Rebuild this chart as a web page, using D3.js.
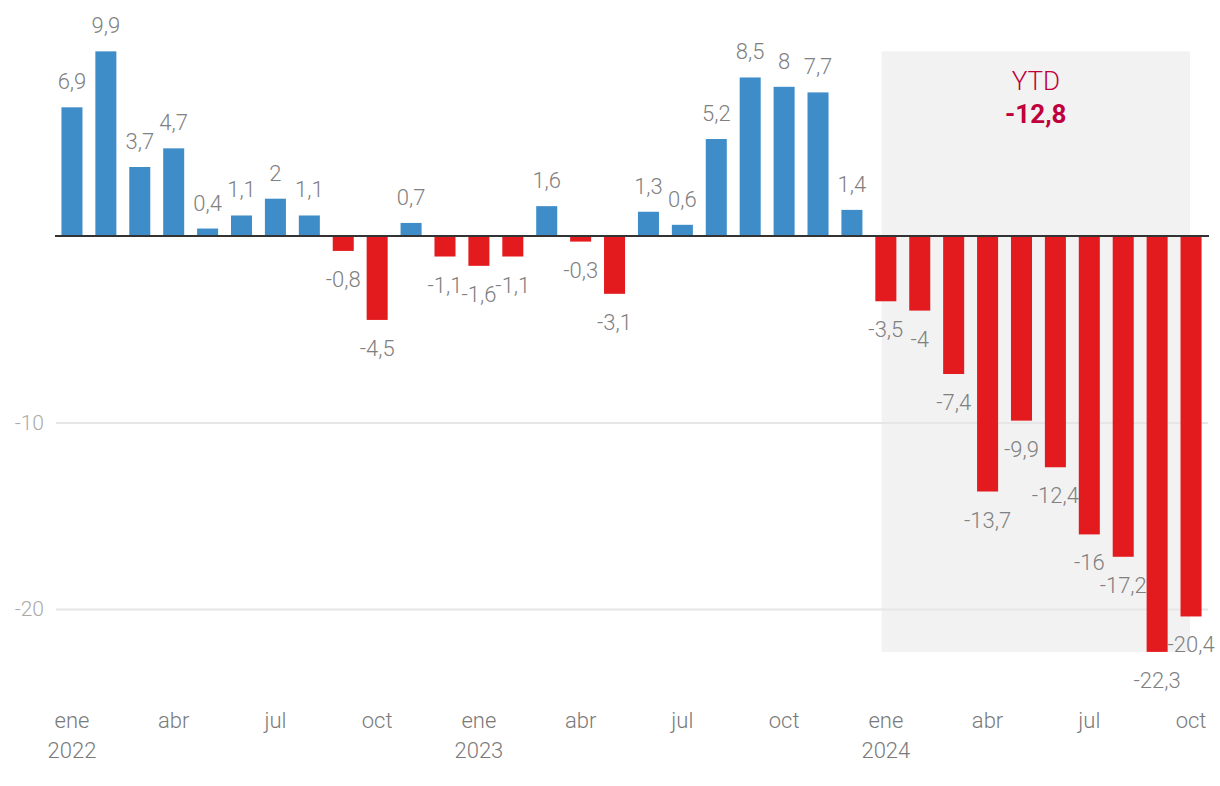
<!DOCTYPE html>
<html>
<head>
<meta charset="utf-8">
<script src="https://cdn.jsdelivr.net/npm/d3@7/dist/d3.min.js"></script>
<style>
  html, body { margin: 0; padding: 0; background: #fff; }
  svg { display: block; font-family: Roboto, "Noto Sans", sans-serif; }
</style>
</head>
<body>
<svg id="chart" width="1220" height="786"></svg>
<script>
const categories = [
  "ene 2022","feb 2022","mar 2022","abr 2022","may 2022","jun 2022","jul 2022","ago 2022","sep 2022","oct 2022","nov 2022","dic 2022",
  "ene 2023","feb 2023","mar 2023","abr 2023","may 2023","jun 2023","jul 2023","ago 2023","sep 2023","oct 2023","nov 2023","dic 2023",
  "ene 2024","feb 2024","mar 2024","abr 2024","may 2024","jun 2024","jul 2024","ago 2024","sep 2024","oct 2024"
];
const values = [
  6.9, 9.9, 3.7, 4.7, 0.4, 1.1, 2, 1.1, -0.8, -4.5, 0.7, -1.1,
  -1.6, -1.1, 1.6, -0.3, -3.1, 1.3, 0.6, 5.2, 8.5, 8, 7.7, 1.4,
  -3.5, -4, -7.4, -13.7, -9.9, -12.4, -16, -17.2, -22.3, -20.4
];
const tickMonths = ["ene", "abr", "jul", "oct"];
const yTicks = [-10, -20];
const ytdLabel = "YTD";
const ytdValue = "-12,8";
const ytdStart = "ene 2024";
const ytdEnd = "oct 2024";

const data = categories.map((c, i) => ({ cat: c, v: values[i] }));
const fmt = v => String(v).replace(".", ",");

const svg = d3.select("#chart");

const x = d3.scaleBand()
  .domain(categories)
  .range([55, 1208])
  .paddingInner(0.38)
  .paddingOuter(0.19);

const y = d3.scaleLinear()
  .domain([0, -20])
  .range([236, 609]);

// YTD box
const bw = x.bandwidth();
const boxX0 = x(ytdStart) + bw * 0.3;
const boxX1 = x(ytdEnd) + bw * 0.45;
const boxY0 = y(d3.max(values));
const boxY1 = y(d3.min(values));
svg.append("rect")
  .attr("x", boxX0).attr("y", boxY0)
  .attr("width", boxX1 - boxX0).attr("height", boxY1 - boxY0)
  .attr("fill", "#f2f2f2");

// gridlines + y labels
const yAxis = d3.axisLeft(y).tickValues(yTicks).tickSize(-(1208 - 56)).tickFormat(d => d);
const gy = svg.append("g").attr("transform", "translate(56,0)").call(yAxis);
gy.select(".domain").remove();
gy.selectAll(".tick line").attr("stroke", "#e6e6e6").attr("stroke-width", 2);
gy.selectAll(".tick text")
  .attr("x", -12)
  .attr("fill", "#aaaaaa")
  .attr("font-size", 21)
  .attr("font-weight", 300)
  .attr("font-family", "Roboto, sans-serif");

// YTD text
const boxCx = (boxX0 + boxX1) / 2;
svg.append("text")
  .attr("x", boxCx).attr("y", 90)
  .attr("text-anchor", "middle")
  .attr("fill", "#c0003c")
  .attr("font-size", 26)
  .attr("font-weight", 300)
  .text(ytdLabel);
svg.append("text")
  .attr("x", boxCx).attr("y", 123)
  .attr("text-anchor", "middle")
  .attr("fill", "#c0003c")
  .attr("font-size", 26)
  .attr("font-weight", 700)
  .text(ytdValue);

// bars
svg.append("g").selectAll("rect")
  .data(data)
  .join("rect")
  .attr("x", d => x(d.cat))
  .attr("width", bw)
  .attr("y", d => d.v >= 0 ? y(d.v) : y(0))
  .attr("height", d => Math.abs(y(d.v) - y(0)))
  .attr("fill", d => d.v >= 0 ? "#3f8dc8" : "#e31b1e");

// zero line
svg.append("line")
  .attr("x1", 55).attr("x2", 1209)
  .attr("y1", y(0)).attr("y2", y(0))
  .attr("stroke", "#333").attr("stroke-width", 2);

// value labels
svg.append("g").selectAll("text")
  .data(data)
  .join("text")
  .attr("x", d => x(d.cat) + bw / 2)
  .attr("y", d => d.v >= 0 ? y(d.v) - 18 : y(d.v) + 36)
  .attr("text-anchor", "middle")
  .attr("fill", "#808080")
  .attr("font-size", 22)
  .attr("font-weight", 300)
  .text(d => fmt(d.v));

// x axis
const tickCats = categories.filter(c => tickMonths.includes(c.split(" ")[0]));
const xAxis = d3.axisBottom(x).tickValues(tickCats).tickSize(0).tickFormat("");
const gx = svg.append("g").attr("transform", "translate(0,700)").call(xAxis);
gx.select(".domain").remove();
gx.selectAll(".tick").each(function(d) {
  const [m, yr] = d.split(" ");
  const t = d3.select(this).append("text")
    .attr("text-anchor", "middle")
    .attr("fill", "#7a7a7a")
    .attr("font-size", 22)
    .attr("font-weight", 300)
    .attr("font-family", "Roboto, sans-serif");
  t.append("tspan").attr("x", 0).attr("y", 28).text(m);
  if (m === "ene") t.append("tspan").attr("x", 0).attr("y", 58).text(yr);
});
</script>
</body>
</html>
